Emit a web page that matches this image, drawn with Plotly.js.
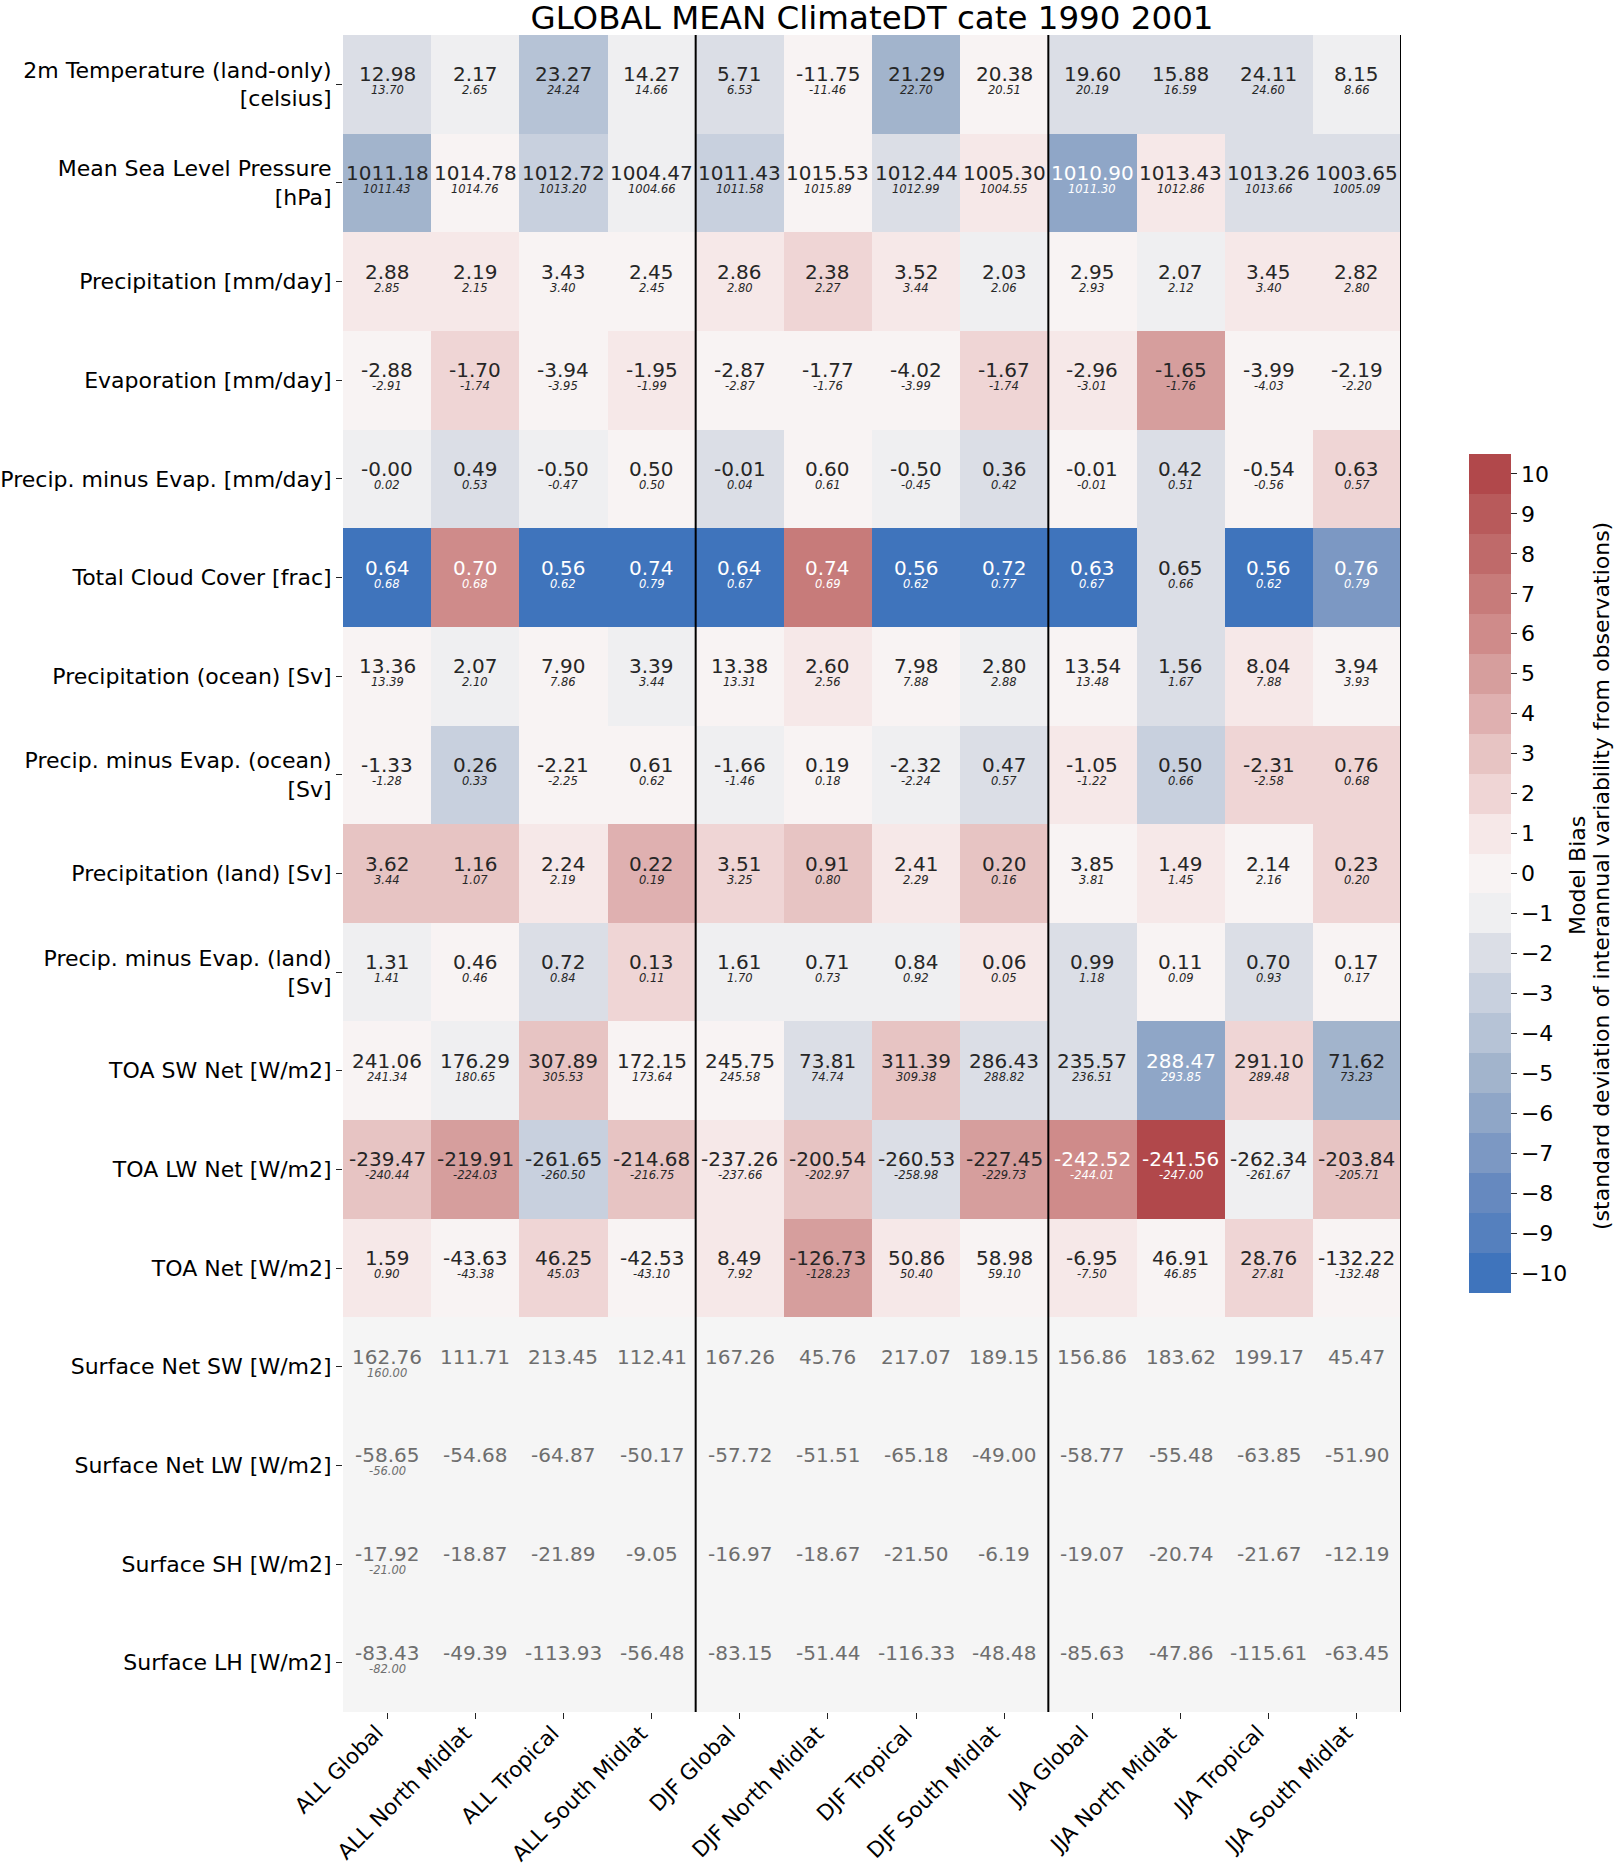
<!DOCTYPE html>
<html>
<head>
<meta charset="utf-8">
<script src="https://cdn.plot.ly/plotly-3.0.1.min.js"></script>
<style>html,body{margin:0;padding:0;background:#fff;}#chart{width:1614px;height:1868px;}</style>
</head>
<body>
<div id="chart"></div>
<script>
const columns = ['ALL Global','ALL North Midlat','ALL Tropical','ALL South Midlat','DJF Global','DJF North Midlat','DJF Tropical','DJF South Midlat','JJA Global','JJA North Midlat','JJA Tropical','JJA South Midlat'];
const rowLabels = ['2m Temperature (land-only)<br>[celsius]','Mean Sea Level Pressure<br>[hPa]','Precipitation [mm/day]','Evaporation [mm/day]','Precip. minus Evap. [mm/day]','Total Cloud Cover [frac]','Precipitation (ocean) [Sv]','Precip. minus Evap. (ocean)<br>[Sv]','Precipitation (land) [Sv]','Precip. minus Evap. (land)<br>[Sv]','TOA SW Net [W/m2]','TOA LW Net [W/m2]','TOA Net [W/m2]','Surface Net SW [W/m2]','Surface Net LW [W/m2]','Surface SH [W/m2]','Surface LH [W/m2]'];

// model values (main numbers)
const modelValues = [
  [12.98, 2.17, 23.27, 14.27, 5.71, -11.75, 21.29, 20.38, 19.60, 15.88, 24.11, 8.15],
  [1011.18, 1014.78, 1012.72, 1004.47, 1011.43, 1015.53, 1012.44, 1005.30, 1010.90, 1013.43, 1013.26, 1003.65],
  [2.88, 2.19, 3.43, 2.45, 2.86, 2.38, 3.52, 2.03, 2.95, 2.07, 3.45, 2.82],
  [-2.88, -1.70, -3.94, -1.95, -2.87, -1.77, -4.02, -1.67, -2.96, -1.65, -3.99, -2.19],
  [-0.00, 0.49, -0.50, 0.50, -0.01, 0.60, -0.50, 0.36, -0.01, 0.42, -0.54, 0.63],
  [0.64, 0.70, 0.56, 0.74, 0.64, 0.74, 0.56, 0.72, 0.63, 0.65, 0.56, 0.76],
  [13.36, 2.07, 7.90, 3.39, 13.38, 2.60, 7.98, 2.80, 13.54, 1.56, 8.04, 3.94],
  [-1.33, 0.26, -2.21, 0.61, -1.66, 0.19, -2.32, 0.47, -1.05, 0.50, -2.31, 0.76],
  [3.62, 1.16, 2.24, 0.22, 3.51, 0.91, 2.41, 0.20, 3.85, 1.49, 2.14, 0.23],
  [1.31, 0.46, 0.72, 0.13, 1.61, 0.71, 0.84, 0.06, 0.99, 0.11, 0.70, 0.17],
  [241.06, 176.29, 307.89, 172.15, 245.75, 73.81, 311.39, 286.43, 235.57, 288.47, 291.10, 71.62],
  [-239.47, -219.91, -261.65, -214.68, -237.26, -200.54, -260.53, -227.45, -242.52, -241.56, -262.34, -203.84],
  [1.59, -43.63, 46.25, -42.53, 8.49, -126.73, 50.86, 58.98, -6.95, 46.91, 28.76, -132.22],
  [162.76, 111.71, 213.45, 112.41, 167.26, 45.76, 217.07, 189.15, 156.86, 183.62, 199.17, 45.47],
  [-58.65, -54.68, -64.87, -50.17, -57.72, -51.51, -65.18, -49.00, -58.77, -55.48, -63.85, -51.90],
  [-17.92, -18.87, -21.89, -9.05, -16.97, -18.67, -21.50, -6.19, -19.07, -20.74, -21.67, -12.19],
  [-83.43, -49.39, -113.93, -56.48, -83.15, -51.44, -116.33, -48.48, -85.63, -47.86, -115.61, -63.45]
];

// observation / reference values (small italic numbers)
const referenceValues = [
  [13.70, 2.65, 24.24, 14.66, 6.53, -11.46, 22.70, 20.51, 20.19, 16.59, 24.60, 8.66],
  [1011.43, 1014.76, 1013.20, 1004.66, 1011.58, 1015.89, 1012.99, 1004.55, 1011.30, 1012.86, 1013.66, 1005.09],
  [2.85, 2.15, 3.40, 2.45, 2.80, 2.27, 3.44, 2.06, 2.93, 2.12, 3.40, 2.80],
  [-2.91, -1.74, -3.95, -1.99, -2.87, -1.76, -3.99, -1.74, -3.01, -1.76, -4.03, -2.20],
  [0.02, 0.53, -0.47, 0.50, 0.04, 0.61, -0.45, 0.42, -0.01, 0.51, -0.56, 0.57],
  [0.68, 0.68, 0.62, 0.79, 0.67, 0.69, 0.62, 0.77, 0.67, 0.66, 0.62, 0.79],
  [13.39, 2.10, 7.86, 3.44, 13.31, 2.56, 7.88, 2.88, 13.48, 1.67, 7.88, 3.93],
  [-1.28, 0.33, -2.25, 0.62, -1.46, 0.18, -2.24, 0.57, -1.22, 0.66, -2.58, 0.68],
  [3.44, 1.07, 2.19, 0.19, 3.25, 0.80, 2.29, 0.16, 3.81, 1.45, 2.16, 0.20],
  [1.41, 0.46, 0.84, 0.11, 1.70, 0.73, 0.92, 0.05, 1.18, 0.09, 0.93, 0.17],
  [241.34, 180.65, 305.53, 173.64, 245.58, 74.74, 309.38, 288.82, 236.51, 293.85, 289.48, 73.23],
  [-240.44, -224.03, -260.50, -216.75, -237.66, -202.97, -258.98, -229.73, -244.01, -247.00, -261.67, -205.71],
  [0.90, -43.38, 45.03, -43.10, 7.92, -128.23, 50.40, 59.10, -7.50, 46.85, 27.81, -132.48],
  [160.00, null, null, null, null, null, null, null, null, null, null, null],
  [-56.00, null, null, null, null, null, null, null, null, null, null, null],
  [-21.00, null, null, null, null, null, null, null, null, null, null, null],
  [-82.00, null, null, null, null, null, null, null, null, null, null, null]
];

// model bias in standard deviations (colour)
const biasValues = [
  [-2, -1, -4, -1, -2, 0, -5, 0, -2, -2, -2, -1],
  [-5, 0, -3, -1, -3, 0, -2, 1, -6, 1, -2, -2],
  [1, 1, 0, 0, 1, 2, 1, -1, 0, -1, 1, 1],
  [0, 2, 0, 1, 0, 0, 0, 2, 1, 5, 0, 0],
  [-1, -2, -1, 0, -2, 0, -1, -2, 0, -2, 0, 2],
  [-10, 6, -10, -10, -10, 7, -10, -10, -10, -2, -10, -7],
  [0, -1, 0, -1, 0, 1, 0, -1, 0, -2, 1, 0],
  [0, -3, 0, 0, -1, 0, -1, -2, 1, -3, 2, 2],
  [3, 3, 1, 4, 2, 3, 1, 3, 0, 1, 0, 2],
  [-1, 0, -2, 2, -1, -1, -1, 1, -2, 0, -2, 0],
  [0, -1, 3, 0, 0, -2, 3, -2, -2, -6, 2, -5],
  [3, 5, -3, 3, 1, 3, -2, 5, 6, 10, -1, 3],
  [1, 0, 2, 0, 1, 5, 1, 0, 1, 0, 2, 0],
  [null, null, null, null, null, null, null, null, null, null, null, null],
  [null, null, null, null, null, null, null, null, null, null, null, null],
  [null, null, null, null, null, null, null, null, null, null, null, null],
  [null, null, null, null, null, null, null, null, null, null, null, null]
];

const biasLevels = [-10,-9,-8,-7,-6,-5,-4,-3,-2,-1,0,1,2,3,4,5,6,7,8,9,10];
const levelColors = ['#3f74bc','#5580be','#6689bf','#7c98c3','#8fa6c7','#a2b4cc','#b6c3d6','#c8d0de','#dbdee6','#efeff1','#f8f3f3','#f6e8e8','#efd5d5','#e7c4c3','#dfb0b0','#d69e9d','#cf8b8a','#c77b7a','#bf6a6a','#b85a5b','#b1484b'];
const colorbarTitleLines = ['Model Bias', '(standard deviation of interannual variability from observations)'];

const FONT = 'DejaVu Sans, Verdana, sans-serif';
const W = 1614, H = 1868;
const M = {l: 343, r: 213, t: 35, b: 156};
const n = levelColors.length;
const colorscale = [];
levelColors.forEach((c, i) => { colorscale.push([i / n, c]); colorscale.push([(i + 1) / n, c]); });

function fmt(v) { return (Object.is(v, -0) ? '-' : '') + v.toFixed(2); }

const xIdx = columns.map((_, i) => i);
const yIdx = rowLabels.map((_, i) => i);

const annotations = [];
for (let r = 0; r < rowLabels.length; r++) {
  for (let c = 0; c < columns.length; c++) {
    const b = biasValues[r][c];
    let col = '#262626';
    if (b === null) col = '#6e6e6e';
    else if (Math.abs(b) >= 6) col = '#ffffff';
    annotations.push({x: c, y: r, xref: 'x', yref: 'y', text: fmt(modelValues[r][c]), showarrow: false,
      yshift: 10, font: {family: FONT, size: 20, color: col}});
    const rv = referenceValues[r][c];
    if (rv !== null && rv !== undefined) {
      annotations.push({x: c, y: r, xref: 'x', yref: 'y', text: '<i>' + fmt(rv) + '</i>', showarrow: false,
        yshift: -6, font: {family: FONT, size: 11.5, color: col}});
    }
  }
}

// rotated column labels, anchored (top-right of rotated box) at each tick
columns.forEach((name, c) => {
  annotations.push({x: c, y: 0, xref: 'x', yref: 'paper', xanchor: 'right', yanchor: 'top', yshift: -7, xshift: 2,
    text: name, textangle: -45, showarrow: false, borderpad: 0, font: {family: FONT, size: 21.5, color: '#000'}});
});

// colour bar title, two rotated lines to the right of the colour bar
const pw = W - M.l - M.r, ph = H - M.t - M.b;
const cbCenterY = (H - M.b - 876) / ph;
[1578, 1602].forEach((px, i) => {
  annotations.push({xref: 'paper', yref: 'paper', x: (px - M.l) / pw, y: cbCenterY, xanchor: 'center', yanchor: 'middle',
    text: colorbarTitleLines[i], textangle: -90, showarrow: false, font: {family: FONT, size: 22, color: '#000'}});
});

const trace = {
  type: 'heatmap', x: xIdx, y: yIdx, z: biasValues,
  zmin: -10.5, zmax: 10.5, colorscale: colorscale, hoverinfo: 'skip',
  colorbar: {
    x: 1.064, xanchor: 'left', y: 0.5, yanchor: 'middle', len: 0.5, lenmode: 'fraction',
    thickness: 42, thicknessmode: 'pixels', outlinewidth: 0, xpad: 0, ypad: 0,
    tickvals: biasLevels, ticktext: biasLevels.map(v => v < 0 ? '\u2212' + Math.abs(v) : String(v)),
    ticks: 'outside', ticklen: 6, tickcolor: '#222', tickfont: {family: FONT, size: 22, color: '#000'}
  }
};

const shapes = [3.5, 7.5, 11.5].map(xb => ({type: 'line', xref: 'x', yref: 'y', x0: xb, x1: xb, y0: -0.5, y1: 16.5,
  line: {color: '#000', width: 2}}));

const layout = {
  width: W, height: H,
  margin: {l: M.l, r: M.r, t: M.t, b: M.b, pad: 0, autoexpand: false},
  paper_bgcolor: '#ffffff', plot_bgcolor: '#f5f5f5',
  title: {text: 'GLOBAL MEAN ClimateDT cate 1990 2001', font: {family: FONT, size: 32.5, color: '#000'},
    x: 0.5, xref: 'paper', xanchor: 'center', y: 1 - 18 / H, yref: 'container', yanchor: 'middle'},
  xaxis: {tickvals: xIdx, showticklabels: false, range: [-0.5, 11.5], ticks: 'outside', ticklen: 6,
    tickcolor: '#222', showgrid: false, zeroline: false,
    showline: false, fixedrange: true, automargin: false},
  yaxis: {tickvals: yIdx, ticktext: rowLabels, range: [16.5, -0.5], ticks: 'outside', ticklen: 6,
    tickcolor: '#222', tickfont: {family: FONT, size: 22, color: '#000'}, showgrid: false, zeroline: false,
    showline: false, fixedrange: true, automargin: false},
  annotations: annotations, shapes: shapes, showlegend: false
};

Plotly.newPlot('chart', [trace], layout, {displayModeBar: false, staticPlot: true});
</script>
</body>
</html>
